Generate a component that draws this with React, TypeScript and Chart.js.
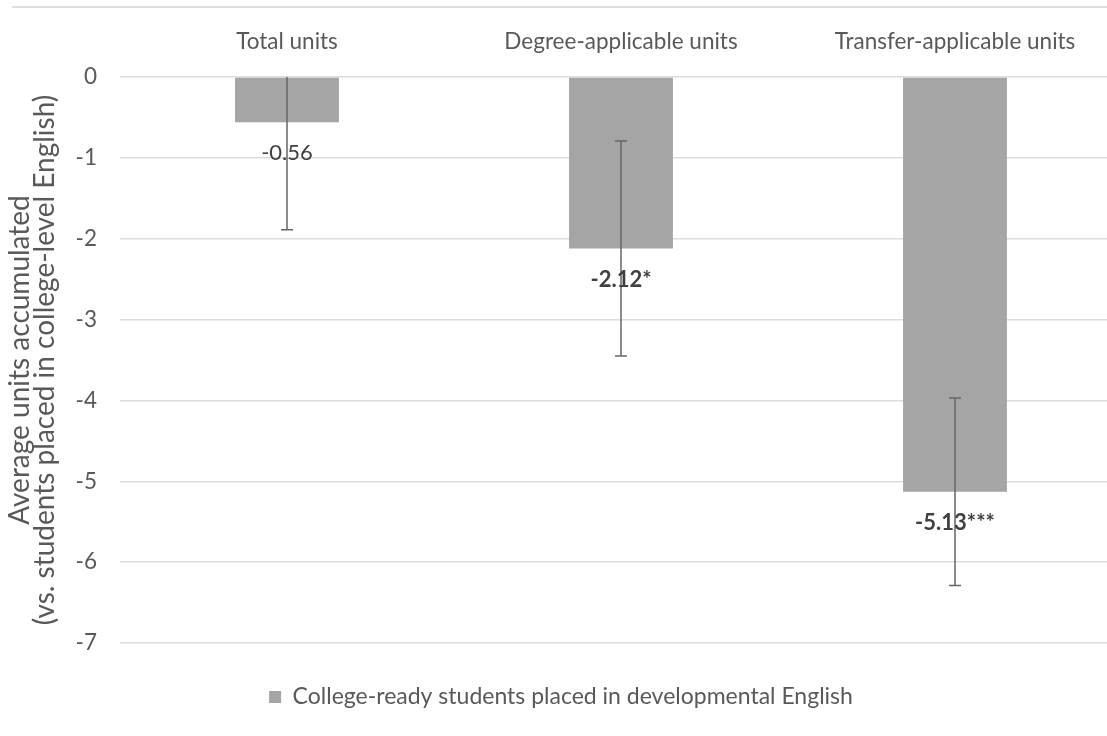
import React, { useEffect, useRef } from "react";
import { Chart, registerables } from "chart.js";

Chart.register(...registerables);

const categories = ["Total units", "Degree-applicable units", "Transfer-applicable units"];
const values = [-0.56, -2.12, -5.13];
const errors = [1.33, 1.33, 1.16];
const valueLabels = ["-0.56", "-2.12*", "-5.13***"];
const labelBold = [false, true, true];
const seriesName = "College-ready students placed in developmental English";
const yTitle = ["Average units accumulated", "(vs. students placed in college-level English)"];
const yMin = -7;
const yMax = 0;

const FONT = "Lato, 'Open Sans', sans-serif";
const TEXT = "#595959";

const topLinePlugin = {
  id: "topLine",
  beforeDraw(chart: any) {
    const ctx = chart.ctx;
    ctx.save();
    ctx.strokeStyle = "#dedede";
    ctx.lineWidth = 2;
    ctx.beginPath();
    ctx.moveTo(12, 7);
    ctx.lineTo(chart.width, 7);
    ctx.stroke();
    ctx.restore();
  },
};

const errorBarPlugin = {
  id: "errorBars",
  afterDatasetsDraw(chart: any) {
    const ctx = chart.ctx;
    const meta = chart.getDatasetMeta(0);
    const ys = chart.scales.y;
    const area = chart.chartArea;
    ctx.save();
    ctx.beginPath();
    ctx.rect(area.left, area.top, area.right - area.left, area.bottom - area.top);
    ctx.clip();
    ctx.strokeStyle = "#666666";
    ctx.lineWidth = 1.5;
    meta.data.forEach((bar: any, i: number) => {
      const x = bar.x;
      const hi = ys.getPixelForValue(values[i] + errors[i]);
      const lo = ys.getPixelForValue(values[i] - errors[i]);
      ctx.beginPath();
      ctx.moveTo(x, hi);
      ctx.lineTo(x, lo);
      ctx.moveTo(x - 6, hi);
      ctx.lineTo(x + 6, hi);
      ctx.moveTo(x - 6, lo);
      ctx.lineTo(x + 6, lo);
      ctx.stroke();
    });
    ctx.restore();
    ctx.save();
    ctx.fillStyle = "#404040";
    ctx.textAlign = "center";
    ctx.textBaseline = "middle";
    meta.data.forEach((bar: any, i: number) => {
      ctx.font = (labelBold[i] ? "bold " : "") + "22px " + FONT;
      const y = ys.getPixelForValue(values[i]) + 31;
      ctx.fillText(valueLabels[i], bar.x, y);
    });
    ctx.restore();
  },
};

export default function App() {
  const ref = useRef<HTMLCanvasElement | null>(null);
  useEffect(() => {
    if (!ref.current) return;
    const chart = new Chart(ref.current, {
      type: "bar",
      data: {
        labels: categories,
        datasets: [
          {
            label: seriesName,
            data: values,
            backgroundColor: "#a5a5a5",
            borderWidth: 0,
            barPercentage: 0.311,
            categoryPercentage: 1,
          },
        ],
      },
      options: {
        animation: false,
        responsive: true,
        maintainAspectRatio: false,
        layout: { padding: { left: 0, right: 8, top: 0, bottom: 17.5 } },
        plugins: {
          tooltip: { enabled: false },
          legend: {
            position: "bottom",
            labels: {
              color: TEXT,
              font: { family: FONT, size: 23 },
              boxWidth: 12,
              boxHeight: 12,
              padding: 42.5,
            },
          },
        },
        scales: {
          x: {
            position: "top",
            grid: { display: false, drawTicks: false },
            border: { display: false },
            ticks: { color: TEXT, font: { family: FONT, size: 22.5 }, padding: 22 },
            afterFit(scale: any) {
              scale.height = 77;
            },
          },
          y: {
            min: yMin,
            max: yMax,
            grid: { color: "#dcdcdc", lineWidth: 1.5, drawTicks: false },
            border: { display: false },
            ticks: { stepSize: 1, color: TEXT, font: { family: FONT, size: 22.5 }, padding: 23 },
            title: {
              display: true,
              text: yTitle,
              color: TEXT,
              font: { family: FONT, size: 28, lineHeight: 0.9 },
              padding: { top: 7, bottom: 0 },
            },
            afterFit(scale: any) {
              scale.width = 120;
            },
          },
        },
      },
      plugins: [topLinePlugin, errorBarPlugin],
    });
    return () => chart.destroy();
  }, []);
  return (
    <div style={{ position: "fixed", left: 0, top: 0, width: 1130, height: 736, background: "#fff" }}>
      <canvas ref={ref} />
    </div>
  );
}
